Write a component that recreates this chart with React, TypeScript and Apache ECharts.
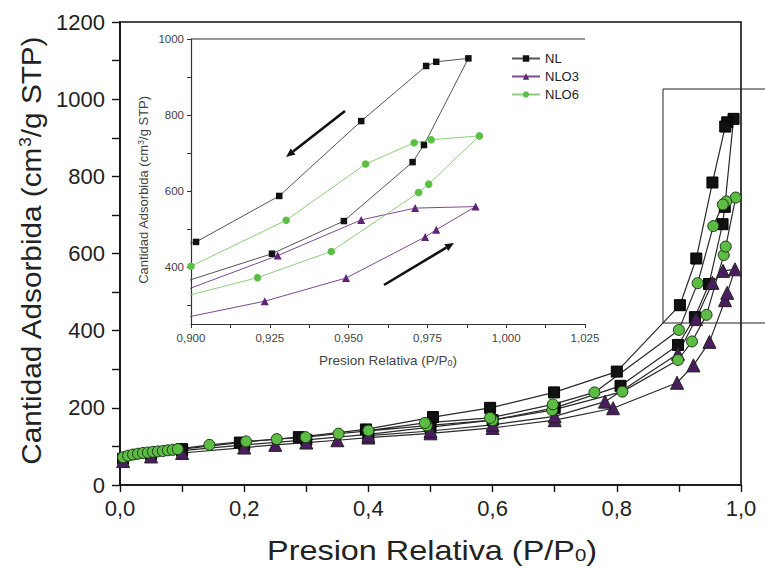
import React, { useEffect, useRef } from 'react';
import * as echarts from 'echarts';

const FONT = '"Liberation Sans", Arial, Helvetica, sans-serif';

// NL (black squares)
const nlAdsP = [0.005, 0.05, 0.1, 0.2, 0.3, 0.4, 0.5, 0.6, 0.7, 0.806, 0.8986, 0.9257, 0.9485, 0.9703, 0.9739, 0.988];
const nlAdsV = [68, 80, 89, 104, 117, 131, 150, 168, 200, 257, 363, 435, 521, 676, 721, 949];
const nlDesP = [0.9778, 0.9746, 0.954, 0.928, 0.9016, 0.8, 0.699, 0.596, 0.504, 0.396, 0.288, 0.193, 0.1];
const nlDesV = [940, 929, 784, 587, 466, 294, 240, 200, 176, 144, 124, 110, 93];

// NLO3 (purple triangles)
const nlo3AdsP = [0.005, 0.05, 0.1, 0.2, 0.25, 0.3, 0.35, 0.4, 0.5, 0.6, 0.7, 0.794, 0.897, 0.9234, 0.9492, 0.9743, 0.9778, 0.9903];
const nlo3AdsV = [62, 74, 83, 97, 104, 110, 116, 123, 134, 148, 168, 199, 265, 310, 371, 479, 498, 559];
const nlo3DesP = [0.9711, 0.954, 0.9275, 0.8985, 0.781, 0.7, 0.6, 0.5, 0.4];
const nlo3DesV = [555, 524, 430, 340, 216, 178, 156, 140, 128];

// NLO6 (green circles)
const nlo6AdsP = [0.005, 0.013, 0.021, 0.029, 0.037, 0.045, 0.053, 0.061, 0.069, 0.077, 0.085, 0.093, 0.144, 0.203, 0.2525, 0.299, 0.352, 0.494, 0.6, 0.696, 0.809, 0.8986, 0.9211, 0.9445, 0.9722, 0.9754, 0.9915];
const nlo6AdsV = [72, 76, 79, 81, 83, 84, 86, 87, 88, 90, 91, 93, 104, 113, 119, 124, 133, 154, 168, 194, 242, 324, 372, 441, 596, 618, 745];
const nlo6DesP = [0.9762, 0.9708, 0.9554, 0.9302, 0.9, 0.764, 0.697, 0.596, 0.491, 0.4];
const nlo6DesV = [735, 727, 671, 523, 402, 240, 209, 174, 161, 141];

const seriesNames = ['NL', 'NLO3', 'NLO6'];
const mainYLabels = [0, 200, 400, 600, 800, 1000, 1200];
const insetXLabels = [0.9, 0.925, 0.95, 0.975, 1.0, 1.025];
const insetXTicks = [0.9, 0.9125, 0.925, 0.9375, 0.95, 0.9625, 0.975, 0.9875, 1.0, 1.0125, 1.025];
const insetYLabels = [400, 600, 800, 1000];
const insetYTicks = [300, 400, 500, 600, 700, 800, 900, 1000];

function loop(ap: number[], av: number[], dp: number[], dv: number[]) {
  const out: number[][] = [];
  ap.forEach((p, i) => out.push([p, av[i]]));
  dp.forEach((p, i) => out.push([p, dv[i]]));
  return out;
}

function arrow(x1: number, y1: number, x2: number, y2: number) {
  const dx = x2 - x1, dy = y2 - y1;
  const len = Math.sqrt(dx * dx + dy * dy);
  const ux = dx / len, uy = dy / len;
  const hl = 9, hw = 3.8;
  const bx = x2 - ux * hl, by = y2 - uy * hl;
  const px = -uy, py = ux;
  return [
    { type: 'line', shape: { x1, y1, x2: bx, y2: by }, style: { stroke: '#111', lineWidth: 2.6 }, z: 50 },
    {
      type: 'polygon',
      shape: { points: [[x2, y2], [bx + px * hw, by + py * hw], [bx - px * hw, by - py * hw]] },
      style: { fill: '#111' },
      z: 50,
    },
  ];
}

export default function App() {
  const ref = useRef<HTMLDivElement>(null);
  useEffect(() => {
    document.body.style.margin = '0';
    const chart = echarts.init(ref.current!, null, { renderer: 'svg' });
    const nlData = loop(nlAdsP, nlAdsV, nlDesP, nlDesV);
    const nlo3Data = loop(nlo3AdsP, nlo3AdsV, nlo3DesP, nlo3DesV);
    const nlo6Data = loop(nlo6AdsP, nlo6AdsV, nlo6DesP, nlo6DesV);

    const option: any = {
      animation: false,
      backgroundColor: '#fff',
      textStyle: { fontFamily: FONT },
      grid: [
        { left: 120, top: 22, width: 621, height: 463, show: true, borderColor: '#111', borderWidth: 1.6, backgroundColor: 'transparent' },
        { left: 191, top: 39, width: 394, height: 285, show: false },
      ],
      legend: {
        data: seriesNames,
        orient: 'vertical',
        left: 506,
        top: 47,
        itemWidth: 28,
        itemHeight: 8,
        itemGap: 5,
        textStyle: { fontSize: 13, color: '#222', fontFamily: FONT },
      },
      xAxis: [
        {
          type: 'value', gridIndex: 0, min: 0, max: 1, interval: 0.1,
          axisLine: { lineStyle: { color: '#111', width: 1.6 } },
          axisTick: { length: 7, lineStyle: { color: '#111', width: 1.4 } },
          splitLine: { show: false },
          axisLabel: {
            fontSize: 22, color: '#222', margin: 12, fontFamily: FONT,
            formatter: (v: number) => (Math.round(v * 10) % 2 === 0 ? v.toFixed(1).replace('.', ',') : ''),
          },
        },
        {
          type: 'value', gridIndex: 1, min: 0.9, max: 1.025, interval: 0.0125,
          axisLine: { lineStyle: { color: '#333', width: 1.2 } },
          axisTick: { length: 4, customValues: insetXTicks, lineStyle: { color: '#333', width: 1 } },
          splitLine: { show: false },
          axisLabel: {
            customValues: insetXLabels,
            fontSize: 11.5, color: '#444', margin: 8, fontFamily: FONT,
            formatter: (v: number) => v.toFixed(3).replace('.', ','),
          },
        },
      ],
      yAxis: [
        {
          type: 'value', gridIndex: 0, min: 0, max: 1200, interval: 100,
          axisLine: { lineStyle: { color: '#111', width: 1.6 } },
          axisTick: { length: 8, lineStyle: { color: '#111', width: 1.4 } },
          splitLine: { show: false },
          axisLabel: {
            fontSize: 22, color: '#222', margin: 15, fontFamily: FONT,
            customValues: mainYLabels,
            formatter: (v: number) => String(Math.round(v)),
          },
        },
        {
          type: 'value', gridIndex: 1, min: 250, max: 1000, interval: 50,
          axisLine: { lineStyle: { color: '#333', width: 1.2 } },
          axisTick: { length: 4, customValues: insetYTicks, lineStyle: { color: '#333', width: 1 } },
          splitLine: { show: false },
          axisLabel: {
            customValues: insetYLabels, fontSize: 11.5, color: '#444', margin: 7, fontFamily: FONT,
            formatter: (v: number) => String(Math.round(v)),
          },
        },
      ],
      series: [
        {
          name: 'NL', type: 'line', xAxisIndex: 1, yAxisIndex: 1, data: nlData, clip: true,
          symbol: 'rect', symbolSize: 6.5, itemStyle: { color: '#111' },
          lineStyle: { color: '#555', width: 1 }, z: 5,
        },
        {
          name: 'NLO3', type: 'line', xAxisIndex: 1, yAxisIndex: 1, data: nlo3Data, clip: true,
          symbol: 'triangle', symbolSize: 8, itemStyle: { color: '#5e2478' },
          lineStyle: { color: '#7b4a92', width: 1 }, z: 5,
        },
        {
          name: 'NLO6', type: 'line', xAxisIndex: 1, yAxisIndex: 1, data: nlo6Data, clip: true,
          symbol: 'circle', symbolSize: 7.5, itemStyle: { color: '#5cbf45' },
          lineStyle: { color: '#8ccc7c', width: 1 }, z: 5,
        },
        {
          name: 'NL', type: 'line', xAxisIndex: 0, yAxisIndex: 0, data: nlData,
          symbol: 'rect', symbolSize: 11, itemStyle: { color: '#111', borderColor: '#000', borderWidth: 1 },
          lineStyle: { color: '#2a2a2a', width: 1.2 }, z: 3,
        },
        {
          name: 'NLO3', type: 'line', xAxisIndex: 0, yAxisIndex: 0, data: nlo3Data,
          symbol: 'triangle', symbolSize: 13, itemStyle: { color: '#4a1d5e', borderColor: '#222', borderWidth: 1 },
          lineStyle: { color: '#2a2a2a', width: 1.2 }, z: 3,
        },
        {
          name: 'NLO6', type: 'line', xAxisIndex: 0, yAxisIndex: 0, data: nlo6Data,
          symbol: 'circle', symbolSize: 11, itemStyle: { color: '#5cbc44', borderColor: '#1e3a18', borderWidth: 1 },
          lineStyle: { color: '#2a2a2a', width: 1.2 }, z: 3,
        },
      ],
      graphic: [
        { type: 'line', shape: { x1: 191, y1: 39, x2: 585, y2: 39 }, style: { stroke: '#333', lineWidth: 1.2 } },
        { type: 'rect', shape: { x: 663, y: 89, width: 120, height: 234 }, style: { fill: 'none', stroke: '#222', lineWidth: 1 } },
        ...arrow(345, 111, 286, 157),
        ...arrow(384, 285, 454, 243),
        {
          type: 'text', x: 432, y: 550, scaleX: 1.2,
          style: {
            text: 'Presion Relativa (P/P{s|0})', fontSize: 27, fontFamily: FONT, fill: '#222',
            align: 'center', verticalAlign: 'middle',
            rich: { s: { fontSize: 17, verticalAlign: 'bottom', fontFamily: FONT, fill: '#222' } },
          },
        },
        {
          type: 'text', x: 31, y: 251, rotation: Math.PI / 2, scaleX: 1.1,
          style: {
            text: 'Cantidad Adsorbida (cm{s|3}/g STP)', fontSize: 27, fontFamily: FONT, fill: '#222',
            align: 'center', verticalAlign: 'middle',
            rich: { s: { fontSize: 16, verticalAlign: 'top', fontFamily: FONT, fill: '#222' } },
          },
        },
        {
          type: 'text', x: 388, y: 360,
          style: {
            text: 'Presion Relativa (P/P{s|0})', fontSize: 13.5, fontFamily: FONT, fill: '#444',
            align: 'center', verticalAlign: 'middle',
            rich: { s: { fontSize: 9, verticalAlign: 'bottom', fontFamily: FONT, fill: '#444' } },
          },
        },
        {
          type: 'text', x: 143, y: 190, rotation: Math.PI / 2,
          style: {
            text: 'Cantidad Adsorbida (cm{s|3}/g STP)', fontSize: 13, fontFamily: FONT, fill: '#444',
            align: 'center', verticalAlign: 'middle',
            rich: { s: { fontSize: 8.5, verticalAlign: 'top', fontFamily: FONT, fill: '#444' } },
          },
        },
      ],
    };
    chart.setOption(option);
    return () => chart.dispose();
  }, []);
  return <div ref={ref} style={{ width: 765, height: 568, background: '#fff' }} />;
}
